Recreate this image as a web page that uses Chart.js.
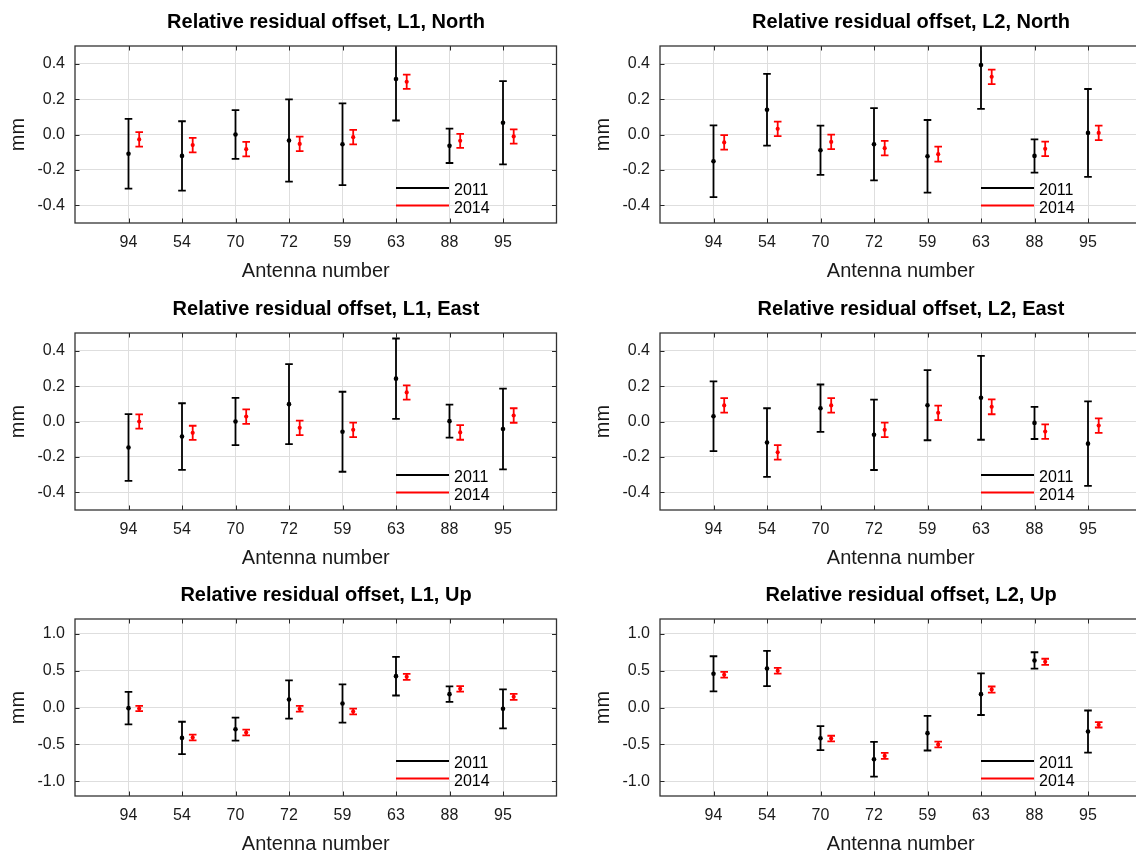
<!DOCTYPE html>
<html>
<head>
<meta charset="utf-8">
<script src="https://cdn.jsdelivr.net/npm/chart.js@4.4.1/dist/chart.umd.min.js"></script>
<style>
    html, body { margin: 0; padding: 0; background: #fff; overflow: hidden; }
    #figura { position: relative; width: 1136px; height: 851px; overflow: hidden; background: #fff; }
    #figura canvas { position: absolute; }
</style>
</head>
<body>
<div id="figura"></div>
<script>
const antennas = ['94', '54', '70', '72', '59', '63', '88', '95'];
const years = ['2011', '2014'];
const ticksHoriz = [-0.4, -0.2, 0, 0.2, 0.4];
const ticksUp = [-1.0, -0.5, 0, 0.5, 1.0];

// L1 North
const l1North2011 = [-0.109, -0.121, 0.000, -0.034, -0.055, 0.313, -0.064, 0.066];
const l1North2011Err = [0.197, 0.196, 0.138, 0.232, 0.231, 0.234, 0.097, 0.235];
const l1North2014 = [-0.028, -0.060, -0.083, -0.053, -0.015, 0.298, -0.036, -0.011];
const l1North2014Err = [0.041, 0.041, 0.041, 0.041, 0.041, 0.040, 0.040, 0.040];

// L2 North
const l2North2011 = [-0.151, 0.140, -0.089, -0.055, -0.123, 0.392, -0.121, 0.009];
const l2North2011Err = [0.203, 0.203, 0.139, 0.204, 0.205, 0.247, 0.094, 0.248];
const l2North2014 = [-0.045, 0.032, -0.042, -0.077, -0.111, 0.326, -0.081, 0.009];
const l2North2014Err = [0.041, 0.041, 0.041, 0.041, 0.042, 0.041, 0.041, 0.041];

// L1 East
const l1East2011 = [-0.147, -0.085, 0.000, 0.098, -0.058, 0.242, 0.002, -0.042];
const l1East2011Err = [0.189, 0.188, 0.133, 0.226, 0.226, 0.227, 0.093, 0.228];
const l1East2014 = [0.000, -0.064, 0.028, -0.036, -0.047, 0.164, -0.062, 0.034];
const l1East2014Err = [0.040, 0.040, 0.041, 0.041, 0.041, 0.040, 0.041, 0.041];

// L2 East
const l2East2011 = [0.030, -0.119, 0.075, -0.075, 0.092, 0.134, -0.008, -0.125];
const l2East2011Err = [0.197, 0.194, 0.134, 0.199, 0.198, 0.237, 0.091, 0.239];
const l2East2014 = [0.091, -0.174, 0.091, -0.047, 0.049, 0.083, -0.057, -0.023];
const l2East2014Err = [0.041, 0.041, 0.041, 0.041, 0.041, 0.042, 0.041, 0.041];

// L1 Up
const l1Up2011 = [-0.009, -0.412, -0.294, 0.109, 0.054, 0.425, 0.181, -0.018];
const l1Up2011Err = [0.220, 0.219, 0.156, 0.260, 0.260, 0.262, 0.106, 0.264];
const l1Up2014 = [-0.014, -0.407, -0.339, -0.018, -0.054, 0.416, 0.253, 0.145];
const l1Up2014Err = [0.036, 0.038, 0.038, 0.039, 0.038, 0.041, 0.038, 0.041];

// L2 Up
const l2Up2011 = [0.457, 0.529, -0.416, -0.701, -0.348, 0.181, 0.638, -0.326];
const l2Up2011Err = [0.238, 0.240, 0.163, 0.235, 0.235, 0.283, 0.111, 0.285];
const l2Up2014 = [0.443, 0.498, -0.421, -0.656, -0.502, 0.244, 0.620, -0.235];
const l2Up2014Err = [0.039, 0.038, 0.038, 0.041, 0.038, 0.041, 0.041, 0.036];

const paineis = [
    { titulo: 'Relative residual offset, L1, North', m1: l1North2011, e1: l1North2011Err, m2: l1North2014, e2: l1North2014Err, ticks: ticksHoriz, lim: 0.5, col: 0, lin: 0 },
    { titulo: 'Relative residual offset, L2, North', m1: l2North2011, e1: l2North2011Err, m2: l2North2014, e2: l2North2014Err, ticks: ticksHoriz, lim: 0.5, col: 1, lin: 0 },
    { titulo: 'Relative residual offset, L1, East', m1: l1East2011, e1: l1East2011Err, m2: l1East2014, e2: l1East2014Err, ticks: ticksHoriz, lim: 0.5, col: 0, lin: 1 },
    { titulo: 'Relative residual offset, L2, East', m1: l2East2011, e1: l2East2011Err, m2: l2East2014, e2: l2East2014Err, ticks: ticksHoriz, lim: 0.5, col: 1, lin: 1 },
    { titulo: 'Relative residual offset, L1, Up', m1: l1Up2011, e1: l1Up2011Err, m2: l1Up2014, e2: l1Up2014Err, ticks: ticksUp, lim: 1.2, col: 0, lin: 2 },
    { titulo: 'Relative residual offset, L2, Up', m1: l2Up2011, e1: l2Up2011Err, m2: l2Up2014, e2: l2Up2014Err, ticks: ticksUp, lim: 1.2, col: 1, lin: 2 }
];

const colLeft = [0, 585];
const linTop = [0, 287, 573];
const fonte = "'Liberation Sans', Arial, Helvetica, sans-serif";

Chart.defaults.font.family = fonte;
Chart.defaults.color = '#262626';

// barras de erro, moldura, legenda e titulo (estilo matlab)
const estiloMatlab = {
    id: 'estiloMatlab',
    beforeDatasetsDraw(chart) {
        const { ctx, chartArea: a, scales: { x, y } } = chart;
        ctx.save();
        ctx.beginPath();
        ctx.rect(a.left, a.top, a.right - a.left, a.bottom - a.top);
        ctx.clip();
        chart.data.datasets.forEach(ds => {
            ctx.strokeStyle = ds.borderColor;
            ctx.lineWidth = 1.8;
            ds.data.forEach(p => {
                const px = x.getPixelForValue(p.x);
                const y1 = y.getPixelForValue(p.y + p.e);
                const y2 = y.getPixelForValue(p.y - p.e);
                ctx.beginPath();
                ctx.moveTo(px, y1); ctx.lineTo(px, y2);
                ctx.moveTo(px - 3.8, y1); ctx.lineTo(px + 3.8, y1);
                ctx.moveTo(px - 3.8, y2); ctx.lineTo(px + 3.8, y2);
                ctx.stroke();
            });
        });
        ctx.restore();
    },
    afterDraw(chart, args, opts) {
        const { ctx, chartArea: a, scales: { x, y } } = chart;
        ctx.save();

        // ticks internos
        ctx.strokeStyle = '#262626';
        ctx.lineWidth = 1;
        ctx.beginPath();
        x.ticks.forEach(t => {
            const px = Math.round(x.getPixelForValue(t.value)) + 0.5;
            ctx.moveTo(px, a.top); ctx.lineTo(px, a.top + 4.5);
            ctx.moveTo(px, a.bottom); ctx.lineTo(px, a.bottom - 4.5);
        });
        y.ticks.forEach(t => {
            const py = Math.round(y.getPixelForValue(t.value)) + 0.5;
            ctx.moveTo(a.left, py); ctx.lineTo(a.left + 4.5, py);
            ctx.moveTo(a.right, py); ctx.lineTo(a.right - 4.5, py);
        });
        ctx.stroke();

        // moldura
        ctx.lineWidth = 1.3;
        ctx.strokeStyle = '#333333';
        ctx.strokeRect(a.left, a.top, a.right - a.left, a.bottom - a.top);

        // legenda
        ctx.font = '16px ' + fonte;
        ctx.textAlign = 'left';
        ctx.textBaseline = 'middle';
        chart.data.datasets.forEach((ds, i) => {
            const ly = a.bottom - 35 + i * 17.5;
            ctx.strokeStyle = ds.borderColor;
            ctx.lineWidth = 1.8;
            ctx.beginPath();
            ctx.moveTo(a.right - 160.5, ly);
            ctx.lineTo(a.right - 107.5, ly);
            ctx.stroke();
            ctx.fillStyle = '#000';
            ctx.fillText(ds.label, a.right - 102.5, ly + 3);
        });

        // titulo
        ctx.font = 'bold 20px ' + fonte;
        ctx.textAlign = 'center';
        ctx.fillStyle = '#000';
        ctx.fillText(opts.titulo, a.left + 251, a.top - 23.3);
        ctx.restore();
    }
};

const figura = document.getElementById('figura');

function montarPontos(medias, erros, desloc) {
    return medias.map((v, i) => ({ x: i + 1 + desloc, y: v, e: erros[i] }));
}

paineis.forEach(p => {
    const canvas = document.createElement('canvas');
    canvas.width = 600;
    canvas.height = 293;
    canvas.style.left = colLeft[p.col] + 'px';
    canvas.style.top = linTop[p.lin] + 'px';
    figura.appendChild(canvas);

    new Chart(canvas, {
        type: 'scatter',
        data: {
            datasets: [
                {
                    label: years[0],
                    data: montarPontos(p.m1, p.e1, 0),
                    borderColor: '#000000',
                    backgroundColor: '#000000',
                    pointRadius: 2.3,
                    pointBorderWidth: 0
                },
                {
                    label: years[1],
                    data: montarPontos(p.m2, p.e2, 0.2),
                    borderColor: '#ff0000',
                    backgroundColor: '#ff0000',
                    pointRadius: 2.1,
                    pointBorderWidth: 0
                }
            ]
        },
        options: {
            responsive: false,
            animation: false,
            events: [],
            layout: { padding: { top: 46, right: 43.5, left: 0, bottom: 0 } },
            plugins: {
                legend: { display: false },
                tooltip: { enabled: false },
                estiloMatlab: { titulo: p.titulo }
            },
            scales: {
                x: {
                    type: 'linear',
                    min: 0,
                    max: 9,
                    afterBuildTicks: s => { s.ticks = antennas.map((a, i) => ({ value: i + 1 })); },
                    afterFit: s => { s.height = 70; },
                    grid: { color: '#dedede', drawTicks: false },
                    border: { display: false },
                    ticks: {
                        autoSkip: false,
                        maxRotation: 0,
                        padding: 10,
                        color: '#1a1a1a',
                        font: { size: 16 },
                        callback: (v, i) => antennas[i]
                    },
                    title: {
                        display: true,
                        text: 'Antenna number',
                        color: '#1a1a1a',
                        font: { size: 20 },
                        padding: { top: 0, bottom: 9.5 }
                    }
                },
                y: {
                    min: -p.lim,
                    max: p.lim,
                    afterBuildTicks: s => { s.ticks = p.ticks.map(v => ({ value: v })); },
                    afterFit: s => { s.width = 75; },
                    grid: { color: '#dedede', drawTicks: false },
                    border: { display: false },
                    ticks: {
                        padding: 10,
                        color: '#1a1a1a',
                        font: { size: 16 },
                        callback: v => v.toFixed(1)
                    },
                    title: {
                        display: true,
                        text: 'mm',
                        color: '#1a1a1a',
                        font: { size: 20 },
                        padding: { top: 6.5, bottom: 0 }
                    }
                }
            }
        },
        plugins: [estiloMatlab]
    });
});
</script>
</body>
</html>
